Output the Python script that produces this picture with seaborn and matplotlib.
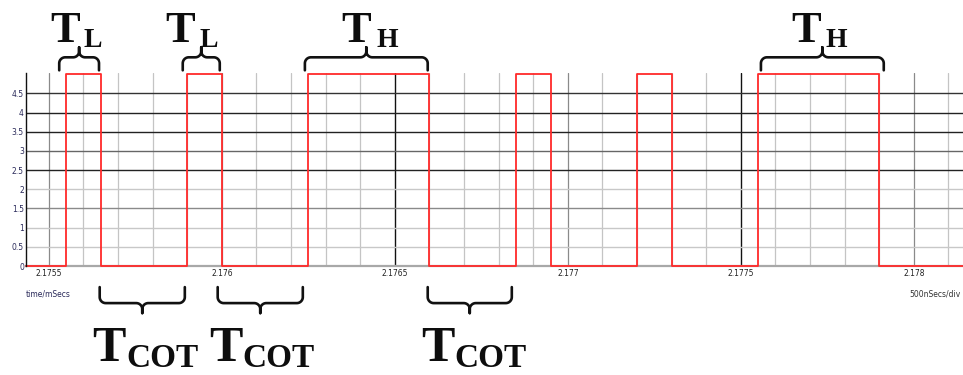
import numpy as np
import pandas as pd
import matplotlib.pyplot as plt
import seaborn as sns

# logic signal: edge times (ms) and the level that starts at each edge
edge_ms = [2.175434, 2.17555, 2.17565, 2.1759, 2.1760, 2.17625, 2.1766,
           2.17685, 2.17695, 2.1772, 2.1773, 2.17755, 2.1779, 2.178142]
level_v = [0, 5, 0, 5, 0, 5, 0, 5, 0, 5, 0, 5, 0, 0]

y_ticks = [0, 0.5, 1, 1.5, 2, 2.5, 3, 3.5, 4, 4.5]
y_tick_labels = ['0', '0.5', '1', '1.5', '2', '2.5', '3', '3.5', '4', '4.5']
x_ticks = [2.1755, 2.176, 2.1765, 2.177, 2.1775, 2.178]
x_tick_labels = ['2.1755', '2.176', '2.1765', '2.177', '2.1775', '2.178']

# braces: span in ms
top_braces = [(2.17553, 2.175645), (2.175887, 2.175994),
              (2.17624, 2.176595), (2.177558, 2.177913)]
bottom_braces = [(2.175647, 2.175893), (2.175988, 2.176234),
                 (2.176595, 2.176838)]
top_subs = ['L', 'L', 'H', 'H']
bottom_subs = ['COT', 'COT', 'COT']

W, H = 963, 375
sns.set_style('white')
fig = plt.figure(figsize=(W / 100, H / 100), dpi=100)
ax = fig.add_axes([26 / W, 1 - 266 / H, (W - 26) / W, (266 - 73) / H])

df = pd.DataFrame({'t': edge_ms, 'v': level_v})

# grid first so the trace sits on top
minor = np.round(np.arange(2.1755, 2.17815, 0.0001), 4)
for x in minor:
    if x in (2.1765, 2.1775):
        c, lw = '#111111', 1.0
    elif abs(x * 2000 - round(x * 2000)) < 1e-6:
        c, lw = '#8a8a8a', 0.9
    else:
        c, lw = '#c4c4c4', 0.9
    ax.axvline(x, color=c, lw=lw, zorder=1)
hgrid = {0.5: '#c8c8c8', 1: '#c8c8c8', 1.5: '#8a8a8a', 2: '#c8c8c8',
         2.5: '#222222', 3: '#666666', 3.5: '#222222', 4: '#222222',
         4.5: '#333333'}
for y, c in hgrid.items():
    ax.axhline(y, color=c, lw=1.0, zorder=1)

sns.lineplot(data=df, x='t', y='v', drawstyle='steps-post', estimator=None,
             color='#ff2a2a', lw=1.3, ax=ax, zorder=3, clip_on=False)

ax.set_xlim(2.175434, 2.178142)
ax.set_ylim(0, 5.03)
ax.autoscale(False)
ax.set_xticks(x_ticks)
ax.set_xticklabels(x_tick_labels)
ax.set_yticks(y_ticks)
ax.set_yticklabels(y_tick_labels)
ax.tick_params(axis='x', length=0, pad=2, labelsize=5.5, labelcolor='#222222')
ax.tick_params(axis='y', length=0, pad=1.5, labelsize=5.5, labelcolor='#2a2a5a')
ax.set_xlabel('')
ax.set_ylabel('')
for s in ['top', 'right']:
    ax.spines[s].set_visible(False)
ax.spines['left'].set_color('#111111')
ax.spines['left'].set_linewidth(1.0)
ax.spines['bottom'].set_color('#a8a8a8')
ax.spines['bottom'].set_linewidth(1.6)
ax.spines['left'].set_zorder(4)


def brace(x0, x1, ybase, direction, h1, h2, r=6):
    # build curly brace in pixels, then map back to data
    p0 = ax.transData.transform((x0, ybase))
    p1 = ax.transData.transform((x1, ybase))
    c = (p1[0] - p0[0]) / 2
    a1 = np.linspace(np.pi, np.pi / 2, 12)
    a2 = np.linspace(-np.pi / 2, 0, 12)
    u = np.concatenate([[0], r + r * np.cos(a1), c - r + r * np.cos(a2), [c]])
    v = np.concatenate([[0], h1 - r + r * np.sin(a1), h1 + r + r * np.sin(a2), [h1 + h2]])
    u = np.concatenate([u, (2 * c - u)[::-1]])
    v = np.concatenate([v, v[::-1]])
    pts = np.column_stack([p0[0] + u, p0[1] + direction * v])
    d = ax.transData.inverted().transform(pts)
    ax.plot(d[:, 0], d[:, 1], color='#111111', lw=1.9, clip_on=False,
            solid_capstyle='round', solid_joinstyle='round', zorder=5)


for x0, x1 in top_braces:
    brace(x0, x1, 5.10, 1, 13, 10)
for x0, x1 in bottom_braces:
    brace(x0, x1, -0.55, -1, 16, 10)


def px(x, y):
    return x / W, 1 - y / H


serif = 'Liberation Serif'
# T labels above (pixel positions: T centre, subscript left)
top_pos = [(65.5, 84), (180.5, 199), (356.5, 376), (806.5, 826)]
for (tx, sx), sub in zip(top_pos, top_subs):
    fig.text(*px(tx, 42), 'T', family=serif, weight='bold', size=32,
             ha='center', va='baseline', color='#0d0d0d')
    fig.text(*px(sx, 47), sub, family=serif, weight='bold', size=20,
             ha='left', va='baseline', color='#0d0d0d')
bottom_pos = [(109, 126), (226, 242), (437.5, 454)]
for (tx, sx), sub in zip(bottom_pos, bottom_subs):
    fig.text(*px(tx, 361), 'T', family=serif, weight='bold', size=36,
             ha='center', va='baseline', color='#0d0d0d')
    fig.text(*px(sx, 367), sub, family=serif, weight='bold', size=24,
             ha='left', va='baseline', color='#0d0d0d')

fig.text(*px(26, 294), 'time/mSecs', size=5.5, color='#2a2a5a',
         ha='left', va='center')
fig.text(*px(961, 294), '500nSecs/div', size=5.5, color='#333333',
         ha='right', va='center')

fig.savefig('out.png', dpi=100)
